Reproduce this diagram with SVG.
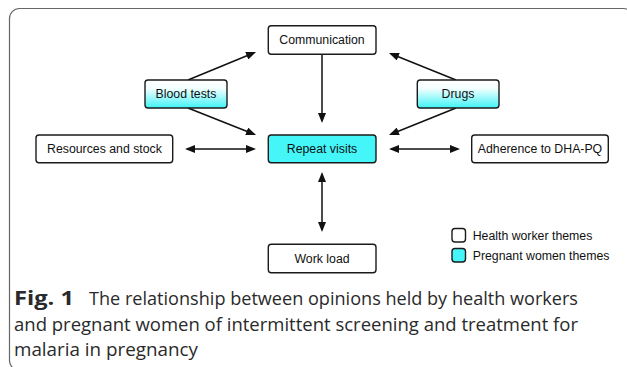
<svg xmlns="http://www.w3.org/2000/svg" width="627" height="367" viewBox="0 0 627 367">
<style>
.frame{fill:#fff;stroke:#666;stroke-width:1.2}
.node{stroke:#1a1a1a;stroke-width:1.4}
.hw{fill:#fff}
.pw{fill:#44f6f8}
.grad{fill:url(#cyanGrad)}
.lbl{font-family:"Liberation Sans",Arial,sans-serif;font-size:12.3px;fill:#111;text-anchor:middle}
.leg{font-family:"Liberation Sans",Arial,sans-serif;font-size:12.3px;fill:#111}
.edge{stroke:#111;stroke-width:1.5;fill:none}
.cap{font-family:"Open Sans","Noto Sans",sans-serif;font-size:19px;fill:#2a2a2a}
</style>
<defs>
<linearGradient id="cyanGrad" x1="0" y1="0" x2="0" y2="1">
<stop offset="0" stop-color="#ffffff"/>
<stop offset="0.3" stop-color="#f4ffff"/>
<stop offset="1" stop-color="#3ef3f6"/>
</linearGradient>
<marker id="arr" viewBox="0 0 10 8" markerWidth="10" markerHeight="8" markerUnits="userSpaceOnUse" refX="8" refY="4" orient="auto-start-reverse">
<path d="M0,0 L10,4 L0,8 z" fill="#111"/>
</marker>
</defs>
<rect class="frame" x="9.5" y="8.5" width="624" height="362" rx="10"/>
<g id="connectors">
<line class="edge" x1="188" y1="80" x2="254.15" y2="52.76" marker-end="url(#arr)"/>
<line class="edge" x1="456" y1="80" x2="390.86" y2="53.75" marker-end="url(#arr)"/>
<line class="edge" x1="188" y1="108" x2="254.14" y2="134.26" marker-end="url(#arr)"/>
<line class="edge" x1="456" y1="108" x2="390.86" y2="134.25" marker-end="url(#arr)"/>
<line class="edge" x1="322" y1="54.5" x2="322" y2="121" marker-end="url(#arr)"/>
<line class="edge" x1="187" y1="149" x2="254" y2="149" marker-start="url(#arr)" marker-end="url(#arr)"/>
<line class="edge" x1="391" y1="149" x2="458" y2="149" marker-start="url(#arr)" marker-end="url(#arr)"/>
<line class="edge" x1="322" y1="174" x2="322" y2="230" marker-start="url(#arr)" marker-end="url(#arr)"/>
</g>
<g id="communication">
<rect class="node hw" x="268.3" y="25.7" width="107.7" height="28.6" rx="3"/>
<text class="lbl" x="322" y="44">Communication</text>
</g>
<g id="blood-tests">
<rect class="node grad" x="145" y="80" width="82" height="28" rx="3"/>
<text class="lbl" x="186" y="98.3">Blood tests</text>
</g>
<g id="drugs">
<rect class="node grad" x="417.3" y="80" width="81.7" height="28" rx="3"/>
<text class="lbl" x="458" y="98.3">Drugs</text>
</g>
<g id="resources">
<rect class="node hw" x="36" y="135" width="136.7" height="27.7" rx="3"/>
<text class="lbl" x="104.5" y="153">Resources and stock</text>
</g>
<g id="repeat-visits">
<rect class="node pw" x="268.3" y="135" width="107.7" height="27.7" rx="3"/>
<text class="lbl" x="322" y="153">Repeat visits</text>
</g>
<g id="adherence">
<rect class="node hw" x="471.7" y="135" width="136.6" height="27.7" rx="3"/>
<text class="lbl" x="540" y="153">Adherence to DHA-PQ</text>
</g>
<g id="work-load">
<rect class="node hw" x="268.3" y="244.3" width="107.7" height="28.4" rx="3"/>
<text class="lbl" x="322" y="262.5">Work load</text>
</g>
<g id="legend">
<rect class="node hw" x="452" y="228.5" width="13.5" height="13.5" rx="3"/>
<text class="leg" x="472.7" y="240">Health worker themes</text>
<rect class="node pw" x="452" y="248.5" width="13.5" height="13.5" rx="3"/>
<text class="leg" x="472.7" y="260">Pregnant women themes</text>
</g>
<g id="caption">
<text class="cap" x="14" y="305" font-weight="bold" textLength="60" lengthAdjust="spacingAndGlyphs">Fig. 1</text>
<text class="cap" x="89" y="305" textLength="489" lengthAdjust="spacingAndGlyphs">The relationship between opinions held by health workers</text>
<text class="cap" x="14" y="330.5" textLength="564" lengthAdjust="spacingAndGlyphs">and pregnant women of intermittent screening and treatment for</text>
<text class="cap" x="14" y="356" textLength="184" lengthAdjust="spacingAndGlyphs">malaria in pregnancy</text>
</g>
</svg>
